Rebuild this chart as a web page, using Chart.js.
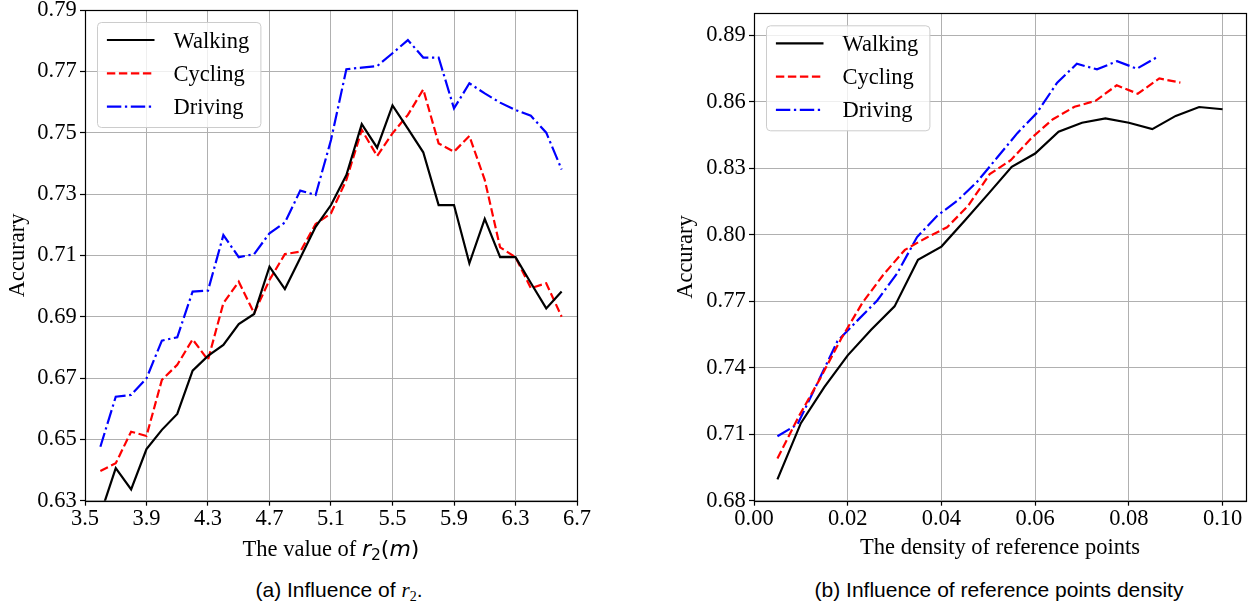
<!DOCTYPE html>
<html>
<head>
<meta charset="utf-8">
<script src="https://cdn.jsdelivr.net/npm/chart.js@4.4.1/dist/chart.umd.min.js"></script>
<style>
  html, body { margin: 0; padding: 0; background: #fff; }
  body { width: 1259px; height: 609px; position: relative; overflow: hidden; }
  .panel { position: absolute; top: 0; height: 575px; }
  #wrapA { left: 0; width: 629px; }
  #wrapB { left: 629px; width: 630px; }
  .caption { position: absolute; top: 578px; width: 440px; height: 26px; line-height: 24px;
             font-family: "Liberation Sans", Arial, sans-serif; font-size: 21px; text-align: center; white-space: nowrap; color: #000; }
  .caption i { font-family: "Liberation Serif", serif; }
  .caption .sub { font-size: 14px; position: relative; top: 4px; font-family: "Liberation Serif", serif; }
</style>
</head>
<body>
<div class="panel" id="wrapA"><canvas id="chartA"></canvas></div>
<div class="panel" id="wrapB"><canvas id="chartB"></canvas></div>
<div class="caption" style="left:119px">(a) Influence of <i>r</i><span class="sub">2</span>.</div>
<div class="caption" style="left:779px">(b) Influence of reference points density</div>
<script>
// ---- panel (a): accuracy vs r2 ----
var r2Values = [3.6, 3.7, 3.8, 3.9, 4.0, 4.1, 4.2, 4.3, 4.4, 4.5, 4.6, 4.7, 4.8, 4.9, 5.0, 5.1,
                5.2, 5.3, 5.4, 5.5, 5.6, 5.7, 5.8, 5.9, 6.0, 6.1, 6.2, 6.3, 6.4, 6.5, 6.6];
var walkingR2 = [0.6255, 0.6406, 0.6337, 0.6468, 0.6531, 0.6583, 0.6724, 0.6772, 0.6808, 0.6876, 0.6909,
                 0.7063, 0.6990, 0.7091, 0.7193, 0.7264, 0.7362, 0.7528, 0.7451, 0.7589, 0.7513, 0.7436,
                 0.7264, 0.7264, 0.7074, 0.7219, 0.7094, 0.7094, 0.7010, 0.6927, 0.6982];
var cyclingR2 = [0.6397, 0.6422, 0.6525, 0.6511, 0.6694, 0.6743, 0.6826, 0.6759, 0.6944, 0.7014, 0.6911,
                 0.7020, 0.7104, 0.7112, 0.7202, 0.7237, 0.7346, 0.7509, 0.7424, 0.7498, 0.7558, 0.7641,
                 0.7465, 0.7438, 0.7489, 0.7346, 0.7126, 0.7094, 0.6993, 0.7009, 0.6900];
var drivingR2 = [0.6476, 0.6639, 0.6645, 0.6699, 0.6822, 0.6833, 0.6982, 0.6985, 0.7166, 0.7094, 0.7104,
                 0.7172, 0.7207, 0.7311, 0.7297, 0.7476, 0.7707, 0.7712, 0.7717, 0.7759, 0.7802, 0.7745,
                 0.7745, 0.7579, 0.7661, 0.7628, 0.7598, 0.7574, 0.7555, 0.7500, 0.7380];
var r2Ticks = [3.5, 3.9, 4.3, 4.7, 5.1, 5.5, 5.9, 6.3, 6.7];
var accTicksA = [0.63, 0.65, 0.67, 0.69, 0.71, 0.73, 0.75, 0.77, 0.79];

// ---- panel (b): accuracy vs density of reference points ----
var walkDensity = [0.005, 0.010, 0.015, 0.020, 0.025, 0.030, 0.035, 0.040, 0.045, 0.050,
                   0.055, 0.060, 0.065, 0.070, 0.075, 0.080, 0.085, 0.090, 0.095, 0.100];
var walkingDen = [0.6896, 0.7150, 0.7313, 0.7456, 0.7572, 0.7677, 0.7887, 0.7947, 0.8065, 0.8185,
                  0.8307, 0.8367, 0.8466, 0.8506, 0.8526, 0.8506, 0.8477, 0.8537, 0.8577, 0.8567];
var cycleDensity = [0.0050, 0.0095, 0.0141, 0.0186, 0.0231, 0.0276, 0.0322, 0.0367, 0.0412, 0.0457,
                    0.0503, 0.0548, 0.0593, 0.0638, 0.0684, 0.0729, 0.0774, 0.0819, 0.0865, 0.0910];
var cyclingDen = [0.6991, 0.7178, 0.7351, 0.7531, 0.7692, 0.7820, 0.7932, 0.7986, 0.8034, 0.8131,
                  0.8274, 0.8337, 0.8439, 0.8522, 0.8578, 0.8605, 0.8675, 0.8637, 0.8706, 0.8687];
var driveDensity = [0.0050, 0.0093, 0.0135, 0.0178, 0.0221, 0.0263, 0.0306, 0.0348, 0.0391, 0.0434,
                    0.0476, 0.0519, 0.0562, 0.0604, 0.0647, 0.0689, 0.0732, 0.0775, 0.0817, 0.0860];
var drivingDen = [0.7091, 0.7145, 0.7329, 0.7520, 0.7614, 0.7704, 0.7828, 0.7990, 0.8086, 0.8154,
                  0.8239, 0.8349, 0.8459, 0.8551, 0.8687, 0.8772, 0.8747, 0.8784, 0.8750, 0.8802];
var densityTicks = [0.00, 0.02, 0.04, 0.06, 0.08, 0.10];
var accTicksB = [0.68, 0.71, 0.74, 0.77, 0.80, 0.83, 0.86, 0.89];

var seriesNames = ['Walking', 'Cycling', 'Driving'];
var yTitle = 'Accurary';
var xTitleB = 'The density of reference points';
var xTitleA = ['The value of ', 'r', '2', '(', 'm', ')'];

Chart.defaults.font.family = '"Liberation Serif", "Times New Roman", serif';
Chart.defaults.font.size = 22.5;
Chart.defaults.color = '#000';

function pts(xs, ys) {
  return xs.map(function (x, i) { return {x: x, y: ys[i]}; });
}

function makeSets(xw, yw, xc, yc, xd, yd) {
  return [
    {label: seriesNames[0], data: pts(xw, yw), borderColor: '#000000', borderWidth: 2.2, borderDash: []},
    {label: seriesNames[1], data: pts(xc, yc), borderColor: '#ff0000', borderWidth: 2.2, borderDash: [8.4, 3.6]},
    {label: seriesNames[2], data: pts(xd, yd), borderColor: '#0000ff', borderWidth: 2.2, borderDash: [14.4, 3.6, 2.3, 3.6]}
  ];
}

// matplotlib-like frame around the plot area
var frame = {
  id: 'frame',
  afterDatasetsDraw: function (chart) {
    var a = chart.chartArea, ctx = chart.ctx;
    ctx.save();
    ctx.strokeStyle = '#000';
    ctx.lineWidth = 1.2;
    ctx.strokeRect(Math.round(a.left) + 0.5, Math.round(a.top) + 0.5,
                   Math.round(a.right) - Math.round(a.left), Math.round(a.bottom) - Math.round(a.top));
    ctx.restore();
  }
};

// legend box in the upper left of the plot area
var boxLegend = {
  id: 'boxLegend',
  afterDraw: function (chart) {
    var ctx = chart.ctx, a = chart.chartArea;
    var x0 = a.left + 12.5, y0 = a.top + 12.5, w = 163.4, h = 105;
    ctx.save();
    ctx.beginPath();
    ctx.roundRect(x0, y0, w, h, 4);
    ctx.fillStyle = 'rgba(255,255,255,0.8)';
    ctx.fill();
    ctx.strokeStyle = '#cccccc';
    ctx.lineWidth = 1;
    ctx.stroke();
    chart.data.datasets.forEach(function (ds, i) {
      var y = y0 + 17.5 + i * 33.3;
      ctx.beginPath();
      ctx.setLineDash(ds.borderDash);
      ctx.strokeStyle = ds.borderColor;
      ctx.lineWidth = ds.borderWidth;
      ctx.moveTo(x0 + 9.4, y);
      ctx.lineTo(x0 + 57, y);
      ctx.stroke();
      ctx.setLineDash([]);
      ctx.fillStyle = '#000';
      ctx.font = '22.5px "Liberation Serif"';
      ctx.textBaseline = 'alphabetic';
      ctx.fillText(ds.label, x0 + 76, y + 7.5);
    });
    ctx.restore();
  }
};

// x title of panel (a): serif text followed by math-style r2(m)
var mixedTitle = {
  id: 'mixedTitle',
  afterDraw: function (chart) {
    var ctx = chart.ctx, a = chart.chartArea;
    var fonts = ['22.5px "Liberation Serif"', 'italic 22px "DejaVu Sans"', '15.5px "DejaVu Sans"',
                 '22px "DejaVu Sans"', 'italic 22px "DejaVu Sans"', '22px "DejaVu Sans"'];
    var shift = [0, 0, 4, 0, 0, 0];
    ctx.save();
    var total = 0, widths = [];
    xTitleA.forEach(function (t, i) { ctx.font = fonts[i]; var w = ctx.measureText(t).width; widths.push(w); total += w; });
    var x = (a.left + a.right) / 2 - total / 2, base = 556;
    ctx.fillStyle = '#000';
    ctx.textBaseline = 'alphabetic';
    xTitleA.forEach(function (t, i) {
      ctx.font = fonts[i];
      ctx.fillText(t, x, base + shift[i]);
      x += widths[i];
    });
    ctx.restore();
  }
};

function fixedTicks(vals) {
  return function (scale) { scale.ticks = vals.map(function (v) { return {value: v}; }); };
}

function makeOptions(o) {
  return {
    animation: false,
    responsive: true,
    maintainAspectRatio: false,
    devicePixelRatio: 1,
    layout: {padding: {left: 0, top: o.top, right: o.right, bottom: 0}},
    elements: {point: {radius: 0, hoverRadius: 0}, line: {tension: 0, fill: false}},
    plugins: {legend: {display: false}, tooltip: {enabled: false}},
    scales: {
      x: {
        type: 'linear', min: o.xmin, max: o.xmax,
        afterBuildTicks: fixedTicks(o.xticks),
        afterFit: function (s) { s.height = 74.3; s.paddingLeft = 0; s.paddingRight = 0; },
        grid: {color: '#b0b0b0', lineWidth: 1, tickColor: '#000', tickLength: 5, tickWidth: 1.2},
        border: {display: false},
        ticks: {padding: 0, autoSkip: false, maxRotation: 0,
                callback: function (v) { return v.toFixed(o.xdec); }},
        title: o.xtitle ? {display: true, text: o.xtitle, padding: {top: 0, bottom: 13.5}} : {display: false}
      },
      y: {
        type: 'linear', min: o.ymin, max: o.ymax,
        afterBuildTicks: fixedTicks(o.yticks),
        afterFit: function (s) { s.width = o.yw; s.paddingTop = 0; s.paddingBottom = 0; },
        grid: {color: '#b0b0b0', lineWidth: 1, tickColor: '#000', tickLength: 5, tickWidth: 1.2},
        border: {display: false},
        ticks: {padding: 3.3, autoSkip: false, callback: function (v) { return v.toFixed(2); }},
        title: {display: true, text: yTitle, padding: {top: o.ytpad, bottom: 0}}
      }
    }
  };
}

new Chart(document.getElementById('chartA'), {
  type: 'line',
  data: {datasets: makeSets(r2Values, walkingR2, r2Values, cyclingR2, r2Values, drivingR2)},
  options: makeOptions({top: 10, right: 52, xmin: 3.5, xmax: 6.7, xticks: r2Ticks, xdec: 1,
                        ymin: 0.63, ymax: 0.79, yticks: accTicksA, yw: 85, ytpad: 4.5, xtitle: null}),
  plugins: [frame, boxLegend, mixedTitle]
});

new Chart(document.getElementById('chartB'), {
  type: 'line',
  data: {datasets: makeSets(walkDensity, walkingDen, cycleDensity, cyclingDen, driveDensity, drivingDen)},
  options: makeOptions({top: 13.3, right: 13, xmin: 0, xmax: 0.105, xticks: densityTicks, xdec: 2,
                        ymin: 0.68, ymax: 0.90, yticks: accTicksB, yw: 125, ytpad: 43.5, xtitle: xTitleB}),
  plugins: [frame, boxLegend]
});
</script>
</body>
</html>
